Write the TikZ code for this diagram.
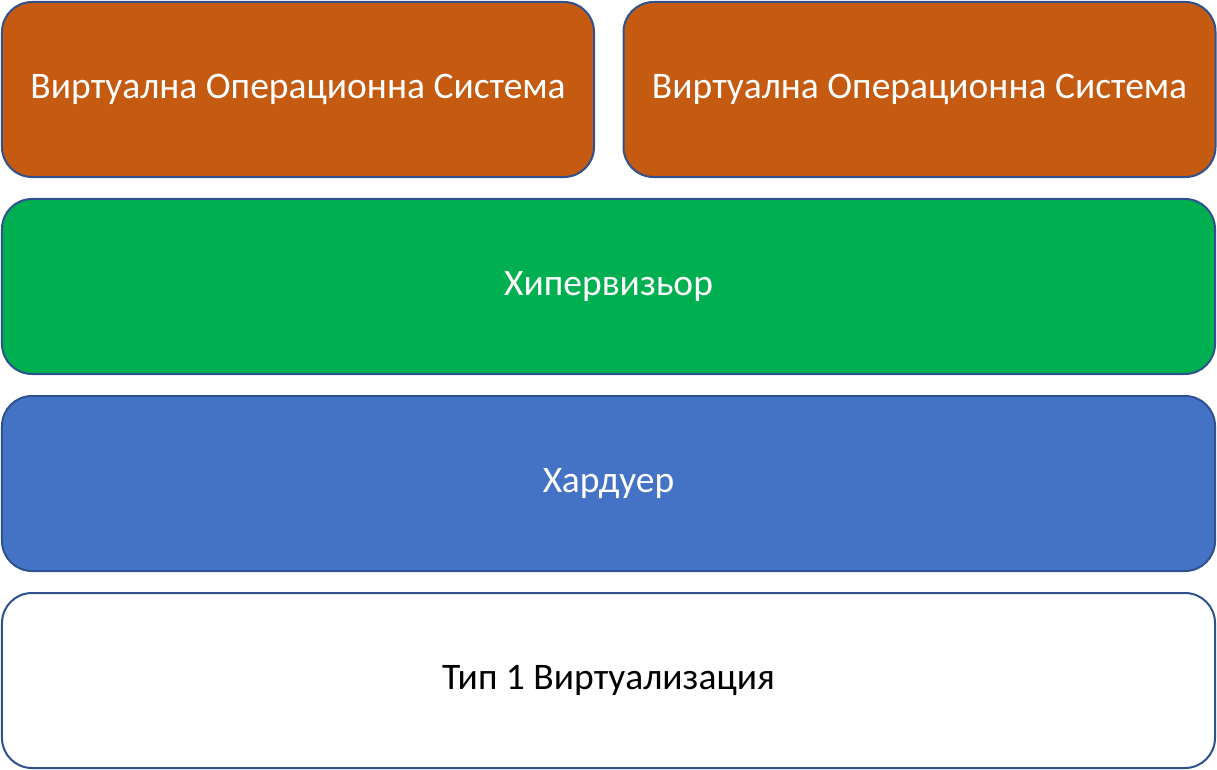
\documentclass[tikz,border=0pt]{standalone}
\usepackage{fontspec}
\setmainfont{Carlito}
\usetikzlibrary{positioning}
\definecolor{osorange}{HTML}{C55A11}
\definecolor{hvgreen}{HTML}{00B050}
\definecolor{hwblue}{HTML}{4472C4}
\definecolor{edgeblue}{HTML}{2F528F}
\tikzset{layer/.style = {draw=edgeblue, line width=2bp, rounded corners=30bp,
                         minimum height=175bp, inner sep=0,
                         font=\fontsize{37.5bp}{45bp}\selectfont}}
\tikzset{wide/.style = {layer, minimum width=1213bp}}
\tikzset{guest/.style = {layer, fill=osorange, text=white, minimum width=592bp}}

\begin{document}
\begin{tikzpicture}[x=1bp, y=-1bp]
      \useasboundingbox (0, 0) rectangle (1217, 770);
      \node [guest] (vm1) at (298, 89.5) {Виртуална Операционна Система};
      \node [guest] (vm2) at (919.5, 89.5) {Виртуална Операционна Система};
      \node [wide, fill=hvgreen, text=white] (hyper) at (608.5, 286.5) {Хипервизьор};
      \node [wide, fill=hwblue, text=white] (hw) at (608.5, 483.5) {Хардуер};
      \node [wide, fill=white, text=black] (type) at (608.5, 680.5) {Тип 1 Виртуализация};
    \end{tikzpicture}
\end{document}
